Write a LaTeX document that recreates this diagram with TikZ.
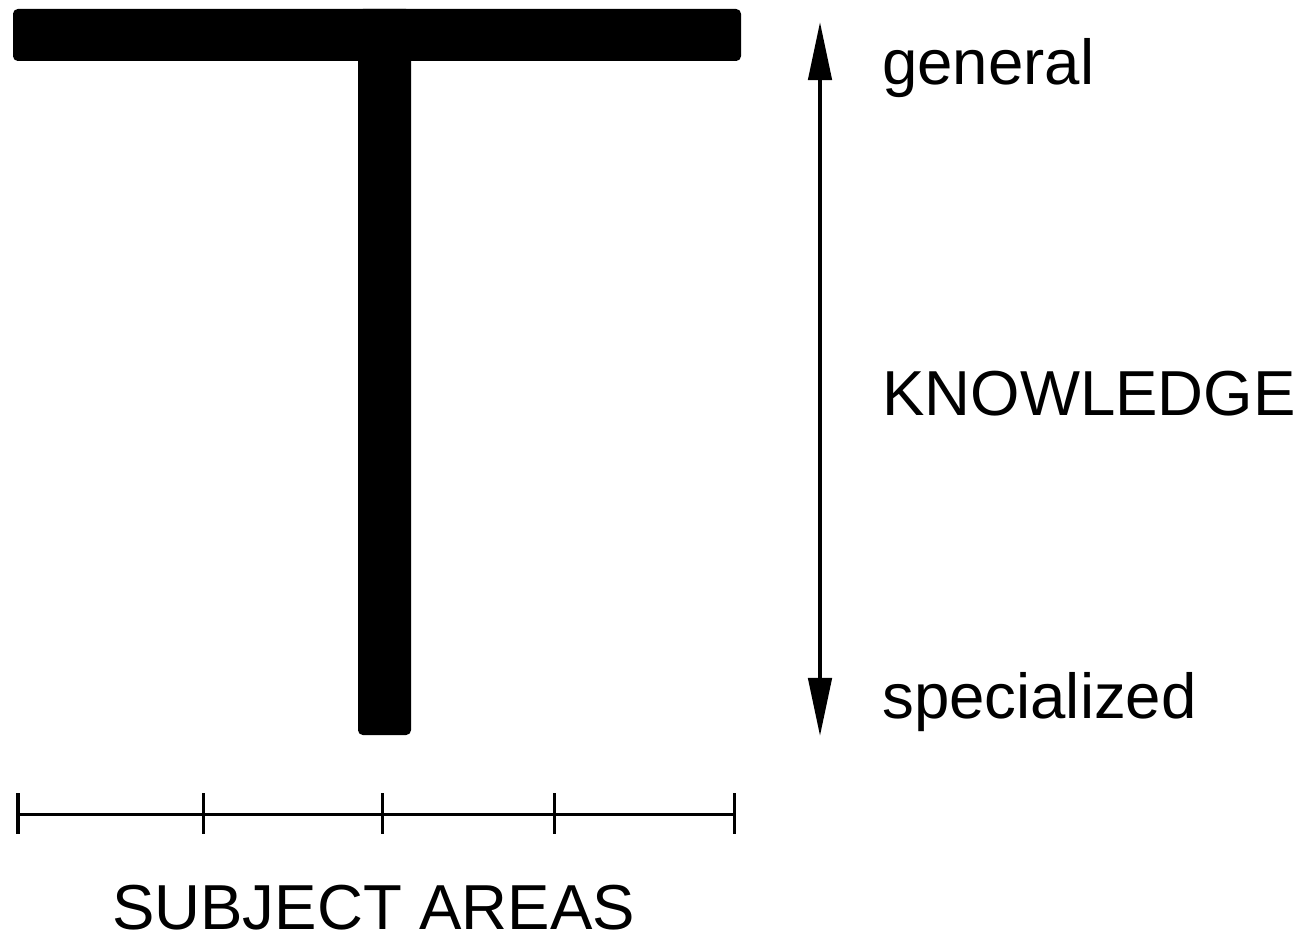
\documentclass[tikz,border=0pt]{standalone}
\usepackage{fontspec}
\setmainfont{Liberation Sans}
\usetikzlibrary{arrows.meta}
\tikzset{
	label text/.style={anchor=base west, inner sep=0pt, font=\fontsize{45.2}{50}\selectfont},
	tee/.style={fill=black, rounded corners=0.12cm},
}
\begin{document}
\begin{tikzpicture}[x=0.025cm, y=-0.025cm]
	\useasboundingbox (0,0) rectangle (1304,938);
	
	\fill[tee] (13,9) rectangle (741,61);
	\fill[tee] (358,9) rectangle (411,735);
	
	\coordinate (top) at (820,22);
	\coordinate (bottom) at (820,736);
	\draw[line width=0.1cm, {Triangle[length=1.45cm, width=0.58cm]}-{Triangle[length=1.45cm, width=0.58cm]}] (top) -- (bottom);
	
	\node[label text] (general) at (882,85) {general};
	\node[label text] (knowledge) at (882,415) {KNOWLEDGE};
	\node[label text] (specialized) at (882,718) {specialized};
	
	\draw[line width=0.075cm] (18,814) coordinate (left) -- (734,814) coordinate (right);
	\foreach \x in {18,203,382,554,734}
		\draw[line width=0.075cm] (\x,793) -- (\x,834);
	\node[label text] (areas) at (112,929) {SUBJECT AREAS};
\end{tikzpicture}
\end{document}
